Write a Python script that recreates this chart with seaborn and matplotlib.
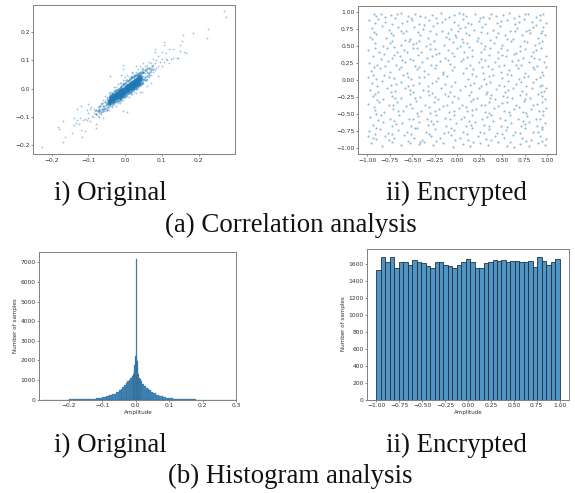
import matplotlib
matplotlib.use("Agg")
import matplotlib.pyplot as plt
import seaborn as sns

BLUE = "#1f77b4"

# Original correlation: sparse outer points
orig_outer = [(-0.225,-0.205),(-0.17,-0.19),(-0.165,-0.17),(-0.183,-0.135),(-0.18,-0.142),(-0.17,-0.115),(-0.145,-0.155),
(-0.14,-0.13),(-0.135,-0.12),(-0.13,-0.07),(-0.12,-0.145),(-0.118,-0.172),(-0.11,-0.15),(-0.14,-0.105),(-0.12,-0.06),
(-0.1,-0.055),(-0.08,-0.14),(-0.08,-0.125),(0.27,0.275),(0.275,0.255),(0.225,0.21),(0.222,0.18),(0.185,0.198),(0.158,0.19),
(0.155,0.17),(0.15,0.155),(0.165,0.125),(0.16,0.13),(0.105,0.165),(0.105,0.155),(0.08,0.14),(0.08,0.13),(0.1,0.13),
(0.13,0.14),(0.12,0.14),(-0.13,-0.11),(-0.125,-0.125),(-0.122,-0.105),(-0.115,-0.11),(-0.11,-0.108),(-0.105,-0.11),
(-0.1,-0.105),(-0.095,-0.115),(-0.09,-0.095),(-0.088,-0.1),(-0.085,-0.085),(-0.08,-0.09),(-0.105,-0.075),(-0.1,-0.085),
(-0.095,-0.07),(-0.092,-0.065),(-0.085,-0.07),(-0.082,-0.08),(-0.075,-0.095),(-0.07,-0.1),(-0.07,-0.085),(-0.07,-0.06),
(-0.075,-0.065),(-0.068,-0.075),(-0.065,-0.09),(-0.065,-0.055),(-0.06,-0.105),(-0.06,-0.07),(-0.06,-0.04),(-0.058,-0.06),
(-0.055,-0.08),(-0.055,-0.045),(-0.055,-0.025),(-0.05,-0.07),(-0.05,-0.055),(-0.05,-0.03),(-0.048,-0.065),(-0.045,-0.075),
(-0.045,-0.045),(-0.045,-0.015),(-0.04,-0.06),(-0.04,-0.035),(-0.04,-0.01),(-0.04,0.045),(-0.035,-0.065),(-0.035,-0.05),
(-0.035,-0.02),(-0.03,-0.055),(-0.03,-0.005),(-0.03,0.005),(-0.025,-0.06),(-0.025,0.005),(-0.02,-0.05),(-0.02,0.015),
(-0.015,-0.05),(-0.015,0.02),(-0.01,-0.045),(-0.01,0.02),(-0.01,0.05),(-0.005,-0.08),(-0.005,0.03),(-0.005,-0.04),
(0.0,-0.03),(0.0,0.03),(0.0,0.04),(-0.005,0.07),(-0.005,0.085),(0.005,-0.025),(0.005,0.05),(0.005,-0.083),(0.01,-0.03),
(0.01,0.04),(0.015,-0.02),(0.015,0.045),(0.02,-0.02),(0.02,0.055),(0.02,0.06),(0.025,-0.01),(0.025,0.05),(0.03,-0.015),
(0.03,0.06),(0.03,0.08),(0.035,0.005),(0.035,0.055),(0.035,0.07),(0.04,-0.01),(0.04,0.01),(0.04,0.06),(0.04,0.08),
(0.045,-0.01),(0.045,0.015),(0.045,0.065),(0.045,0.075),(0.05,0.02),(0.05,0.045),(0.05,0.07),(0.05,0.09),(0.055,0.03),
(0.055,0.055),(0.055,0.08),(0.06,0.01),(0.06,0.035),(0.06,0.06),(0.06,0.085),(0.065,0.04),(0.065,0.07),(0.065,0.095),
(0.07,0.02),(0.07,0.05),(0.07,0.075),(0.07,0.09),(0.075,0.06),(0.075,0.085),(0.075,0.105),(0.08,0.065),(0.08,0.09),
(0.085,0.075),(0.085,0.1),(0.09,0.045),(0.09,0.08),(0.09,0.115),(0.095,0.095),(0.1,0.08),(0.1,0.105),(0.105,0.095),
(0.11,0.105),(0.11,0.125),(0.115,0.1),(0.12,0.09),(0.125,0.105),(0.13,0.11),(0.14,0.11),(0.145,0.11),(0.15,0.135)]

# Original correlation: points flanking the dense band
orig_mid = [(-0.08,-0.075),(-0.078,-0.09),(-0.075,-0.08),(-0.072,-0.07),(-0.07,-0.078),(-0.068,-0.062),(-0.066,-0.083),(-0.064,-0.07),
(-0.062,-0.05),(-0.06,-0.08),(-0.06,-0.062),(-0.058,-0.072),(-0.056,-0.048),(-0.054,-0.068),(-0.052,-0.058),(-0.05,-0.036),(-0.05,-0.075),
(-0.048,-0.052),(-0.046,-0.066),(-0.045,-0.03),(-0.043,-0.058),(-0.042,-0.022),(-0.04,-0.055),(-0.04,-0.028),(-0.038,-0.05),(-0.037,-0.018),
(-0.036,-0.056),(-0.035,-0.014),(-0.033,-0.05),(-0.032,-0.018),(-0.03,-0.048),(-0.03,-0.012),(-0.028,-0.046),(-0.027,-0.008),(-0.025,-0.045),
(-0.025,-0.006),(-0.023,-0.042),(-0.022,-0.004),(-0.02,-0.04),(-0.02,0.0),(-0.018,-0.042),(-0.017,-0.002),(-0.015,-0.038),(-0.015,0.004),
(-0.013,-0.036),(-0.012,0.006),(-0.01,-0.035),(-0.01,0.01),(-0.008,-0.03),(-0.007,0.012),(-0.005,-0.03),(-0.005,0.016),(-0.003,-0.028),
(-0.002,0.02),(0.0,-0.024),(0.0,0.018),(0.002,-0.022),(0.003,0.025),(0.005,-0.018),(0.005,0.03),(0.007,-0.016),(0.008,0.028),(0.01,-0.015),
(0.01,0.032),(0.012,-0.012),(0.013,0.035),(0.015,-0.01),(0.015,0.038),(0.017,-0.008),(0.018,0.04),(0.02,-0.006),(0.02,0.042),(0.022,-0.004),
(0.023,0.045),(0.025,-0.002),(0.025,0.04),(0.027,0.002),(0.028,0.05),(0.03,0.0),(0.03,0.048),(0.032,0.004),(0.033,0.052),(0.035,0.008),
(0.035,0.05),(0.037,0.012),(0.038,0.055),(0.04,0.015),(0.04,0.052),(0.042,0.018),(0.043,0.06),(0.045,0.025),(0.045,0.055),(0.047,0.02),
(0.048,0.06),(0.05,0.03),(0.05,0.06),(0.052,0.035),(0.053,0.065),(0.055,0.04),(0.056,0.068),(0.058,0.03),(0.06,0.045),(0.06,0.072),(0.062,0.055),
(0.065,0.05),(0.066,0.075),(0.068,0.06),(0.07,0.065),(0.072,0.08),(0.075,0.07)]

# Original correlation: dense band along the diagonal
orig_core = [(-0.045,-0.05),(-0.043,-0.042),(-0.04,-0.045),(-0.04,-0.036),(-0.038,-0.03),(-0.037,-0.042),
(-0.036,-0.034),(-0.035,-0.027),(-0.034,-0.04),(-0.033,-0.03),(-0.032,-0.036),(-0.031,-0.024),(-0.03,-0.032),(-0.03,-0.026),
(-0.029,-0.038),(-0.028,-0.022),(-0.027,-0.03),(-0.026,-0.024),(-0.025,-0.034),(-0.025,-0.018),(-0.024,-0.028),(-0.023,-0.02),
(-0.022,-0.03),(-0.021,-0.014),(-0.02,-0.025),(-0.02,-0.018),(-0.019,-0.03),(-0.018,-0.012),(-0.017,-0.022),(-0.016,-0.016),
(-0.015,-0.028),(-0.015,-0.008),(-0.014,-0.02),(-0.013,-0.012),(-0.012,-0.024),(-0.011,-0.006),(-0.01,-0.018),(-0.01,-0.01),
(-0.009,-0.022),(-0.008,-0.003),(-0.007,-0.014),(-0.006,-0.007),(-0.005,-0.018),(-0.005,0.0),(-0.004,-0.01),(-0.003,-0.004),
(-0.002,-0.014),(-0.001,0.003),(0.0,-0.007),(0.0,0.0),(0.001,-0.012),(0.002,0.006),(0.003,-0.004),(0.004,0.002),(0.005,-0.008),
(0.005,0.01),(0.006,0.0),(0.007,0.006),(0.008,-0.005),(0.009,0.013),(0.01,0.003),(0.01,0.009),(0.011,-0.002),(0.012,0.016),
(0.013,0.006),(0.014,0.012),(0.015,0.001),(0.016,0.02),(0.017,0.01),(0.018,0.015),(0.019,0.004),(0.02,0.024),(0.02,0.012),
(0.021,0.018),(0.022,0.007),(0.023,0.028),(0.024,0.015),(0.025,0.021),(0.026,0.01),(0.027,0.032),(0.028,0.018),(0.029,0.025),
(0.03,0.013),(0.031,0.035),(0.032,0.022),(0.033,0.03),(0.034,0.017),(0.035,0.04),(0.036,0.026),(0.037,0.034),(0.038,0.022),
(0.04,0.044),(0.041,0.03),(0.042,0.037)]

# Encrypted correlation: scattered points
enc_points = [(-0.93,0.98),(-0.85,0.97),(-0.74,0.96),(-0.62,0.99),(-0.55,0.94),(-0.47,0.97),(-0.36,0.93),(-0.28,0.96),(-0.18,0.99),
(-0.09,0.93),(0.02,0.99),(0.1,0.95),(0.2,0.97),(0.29,0.93),(0.38,0.98),(0.51,0.96),(0.58,0.99),(0.69,0.94),(0.79,0.97),(0.88,0.93),(0.96,0.98),
(-0.98,0.88),(-0.88,0.9),(-0.8,0.85),(-0.69,0.91),(-0.61,0.84),(-0.5,0.89),(-0.43,0.83),(-0.31,0.88),(-0.22,0.84),(-0.13,0.9),(-0.03,0.86),
(0.06,0.9),(0.15,0.83),(0.24,0.87),(0.35,0.91),(0.44,0.84),(0.55,0.88),(0.64,0.83),(0.74,0.9),(0.83,0.85),(0.92,0.88),(0.99,0.84),
(-0.95,0.77),(-0.84,0.8),(-0.76,0.74),(-0.66,0.78),(-0.57,0.73),(-0.48,0.79),(-0.38,0.75),(-0.27,0.8),(-0.17,0.72),(-0.07,0.76),(0.01,0.72),
(0.09,0.79),(0.19,0.74),(0.28,0.78),(0.4,0.74),(0.48,0.8),(0.59,0.73),(0.67,0.77),(0.77,0.72),(0.85,0.79),(0.94,0.73),
(-0.97,0.64),(-0.9,0.68),(-0.79,0.62),(-0.71,0.66),(-0.6,0.69),(-0.52,0.61),(-0.41,0.67),(-0.33,0.62),(-0.23,0.68),(-0.12,0.63),(-0.02,0.67),
(0.05,0.61),(0.13,0.66),(0.23,0.62),(0.33,0.69),(0.43,0.63),(0.53,0.67),(0.62,0.61),(0.72,0.66),(0.81,0.69),(0.9,0.62),(0.98,0.67),
(-0.92,0.55),(-0.83,0.51),(-0.72,0.57),(-0.63,0.52),(-0.54,0.58),(-0.46,0.54),(-0.35,0.5),(-0.26,0.57),(-0.15,0.52),(-0.05,0.56),(0.03,0.5),
(0.11,0.54),(0.22,0.58),(0.31,0.5),(0.41,0.55),(0.5,0.52),(0.6,0.57),(0.7,0.51),(0.78,0.56),(0.87,0.52),(0.95,0.58),
(-0.99,0.45),(-0.87,0.42),(-0.78,0.47),(-0.67,0.41),(-0.59,0.45),(-0.49,0.48),(-0.4,0.42),(-0.3,0.46),(-0.2,0.4),(-0.1,0.44),(0.0,0.47),
(0.08,0.41),(0.17,0.45),(0.27,0.41),(0.37,0.47),(0.46,0.42),(0.56,0.45),(0.65,0.4),(0.75,0.46),(0.84,0.42),(0.93,0.47),
(-0.94,0.35),(-0.82,0.38),(-0.73,0.32),(-0.64,0.36),(-0.53,0.31),(-0.44,0.37),(-0.34,0.33),(-0.24,0.38),(-0.14,0.32),(-0.04,0.35),(0.07,0.31),
(0.16,0.36),(0.26,0.31),(0.36,0.37),(0.45,0.32),(0.54,0.35),(0.63,0.38),(0.73,0.32),(0.82,0.36),(0.91,0.31),(0.99,0.35),
(-0.98,0.25),(-0.89,0.22),(-0.77,0.28),(-0.68,0.23),(-0.58,0.27),(-0.47,0.21),(-0.39,0.26),(-0.29,0.22),(-0.19,0.28),(-0.08,0.24),(0.04,0.28),
(0.14,0.22),(0.24,0.26),(0.34,0.21),(0.42,0.27),(0.52,0.23),(0.61,0.28),(0.71,0.22),(0.8,0.26),(0.89,0.21),(0.97,0.27),
(-0.96,0.14),(-0.86,0.18),(-0.75,0.12),(-0.65,0.16),(-0.56,0.11),(-0.45,0.17),(-0.37,0.13),(-0.25,0.18),(-0.16,0.12),(-0.06,0.15),(0.06,0.11),
(0.18,0.16),(0.29,0.11),(0.39,0.17),(0.49,0.12),(0.58,0.15),(0.68,0.18),(0.76,0.11),(0.86,0.16),(0.94,0.12),
(-0.99,0.05),(-0.9,0.02),(-0.81,0.07),(-0.7,0.03),(-0.6,0.08),(-0.51,0.02),(-0.42,0.05),(-0.32,0.09),(-0.21,0.03),(-0.11,0.06),(0.12,0.02),
(0.21,0.06),(0.3,0.01),(0.4,0.07),(0.5,0.03),(0.6,0.08),(0.69,0.02),(0.79,0.06),(0.88,0.01),(0.96,0.07),
(-0.95,-0.05),(-0.84,-0.02),(-0.74,-0.07),(-0.63,-0.03),(-0.55,-0.08),(-0.43,-0.04),(-0.33,-0.09),(-0.23,-0.02),(-0.13,-0.06),(-0.02,-0.03),
(0.09,-0.08),(0.19,-0.04),(0.27,-0.09),(0.37,-0.03),(0.47,-0.07),(0.57,-0.02),(0.66,-0.06),(0.77,-0.09),(0.85,-0.03),(0.92,-0.08),(0.99,-0.11),
(-0.97,-0.14),(-0.88,-0.18),(-0.78,-0.12),(-0.69,-0.16),(-0.58,-0.11),(-0.49,-0.17),(-0.38,-0.14),(-0.28,-0.19),(-0.18,-0.12),(-0.08,-0.17),
(0.03,-0.14),(0.24,-0.12),(0.33,-0.18),(0.43,-0.13),(0.53,-0.17),(0.62,-0.11),(0.72,-0.16),(0.83,-0.12),(0.93,-0.18),
(-0.94,-0.24),(-0.83,-0.28),(-0.72,-0.23),(-0.62,-0.27),(-0.52,-0.21),(-0.41,-0.25),(-0.31,-0.22),(-0.21,-0.28),(-0.1,-0.24),(0.01,-0.27),
(0.13,-0.22),(0.22,-0.26),(0.32,-0.21),(0.42,-0.28),(0.51,-0.23),(0.61,-0.27),(0.7,-0.22),(0.81,-0.26),(0.9,-0.21),(0.98,-0.28),
(-0.99,-0.35),(-0.87,-0.32),(-0.76,-0.37),(-0.67,-0.33),(-0.57,-0.38),(-0.46,-0.31),(-0.36,-0.36),(-0.26,-0.32),(-0.16,-0.38),(-0.06,-0.33),
(0.05,-0.37),(0.15,-0.31),(0.26,-0.36),(0.36,-0.32),(0.46,-0.38),(0.55,-0.33),(0.65,-0.37),(0.74,-0.31),(0.84,-0.36),(0.95,-0.32),
(-0.92,-0.44),(-0.81,-0.47),(-0.71,-0.42),(-0.6,-0.46),(-0.5,-0.41),(-0.4,-0.45),(-0.3,-0.48),(-0.2,-0.42),(-0.09,-0.47),(0.02,-0.41),
(0.11,-0.46),(0.21,-0.43),(0.31,-0.47),(0.41,-0.41),(0.52,-0.45),(0.63,-0.42),(0.73,-0.47),(0.82,-0.43),(0.91,-0.46),(0.99,-0.41),
(-0.97,-0.55),(-0.85,-0.51),(-0.75,-0.57),(-0.65,-0.52),(-0.54,-0.58),(-0.44,-0.53),(-0.34,-0.57),(-0.24,-0.51),(-0.14,-0.56),(-0.03,-0.52),
(0.04,-0.57),(0.08,-0.55),(0.17,-0.51),(0.28,-0.57),(0.38,-0.52),(0.48,-0.56),(0.59,-0.51),(0.68,-0.57),(0.78,-0.53),(0.88,-0.58),(0.96,-0.52),
(-0.94,-0.66),(-0.83,-0.62),(-0.73,-0.67),(-0.61,-0.63),(-0.51,-0.68),(-0.42,-0.62),(-0.32,-0.66),(-0.22,-0.61),(-0.12,-0.67),(-0.01,-0.63),
(0.1,-0.68),(0.2,-0.62),(0.3,-0.66),(0.4,-0.61),(0.49,-0.67),(0.6,-0.63),(0.71,-0.68),(0.8,-0.62),(0.89,-0.67),(0.98,-0.63),
(-0.98,-0.75),(-0.86,-0.72),(-0.77,-0.78),(-0.66,-0.73),(-0.56,-0.77),(-0.45,-0.71),(-0.35,-0.76),(-0.25,-0.72),(-0.15,-0.78),(-0.04,-0.73),
(0.07,-0.77),(0.16,-0.71),(0.25,-0.76),(0.35,-0.72),(0.44,-0.78),(0.54,-0.73),(0.64,-0.77),(0.75,-0.71),(0.85,-0.76),(0.94,-0.72),
(-0.99,-0.83),(-0.9,-0.87),(-0.8,-0.82),(-0.7,-0.86),(-0.59,-0.81),(-0.48,-0.85),(-0.39,-0.88),(-0.29,-0.82),(-0.19,-0.86),(-0.07,-0.81),
(0.03,-0.85),(0.12,-0.88),(0.23,-0.83),(0.32,-0.87),(0.42,-0.82),(0.52,-0.86),(0.62,-0.81),(0.72,-0.85),(0.82,-0.88),(0.92,-0.83),(0.99,-0.87),
(-0.96,-0.93),(-0.84,-0.97),(-0.72,-0.92),(-0.62,-0.96),(-0.52,-0.93),(-0.43,-0.94),(-0.37,-0.92),(-0.27,-0.96),(-0.16,-0.93),(-0.05,-0.98),
(0.06,-0.94),(0.14,-0.97),(0.25,-0.93),(0.34,-0.96),(0.45,-0.92),(0.56,-0.97),(0.63,-0.98),(0.7,-0.94),(0.8,-0.97),(0.9,-0.93),(0.98,-0.96)]

# Encrypted correlation: further scattered points
enc_more = [(-0.9,0.95),(-0.8,0.93),(-0.67,0.97),(-0.51,0.91),(-0.41,0.95),(-0.23,0.92),(-0.04,0.96),(0.06,0.98),(0.25,0.92),(0.43,0.95),(0.63,0.91),(0.75,0.98),(0.92,0.96),
(-0.92,0.84),(-0.73,0.83),(-0.56,0.87),(-0.37,0.81),(-0.17,0.86),(0.01,0.82),(0.03,0.77),(0.12,0.84),(0.31,0.83),(0.49,0.87),(0.69,0.85),(0.88,0.81),(0.96,0.78),
(-0.93,0.71),(-0.74,0.7),(-0.62,0.72),(-0.44,0.71),(-0.3,0.72),(-0.1,0.7),(-0.01,0.63),(0.1,0.7),(0.27,0.71),(0.46,0.7),(0.64,0.72),(0.8,0.74),(0.93,0.69),
(-0.95,0.6),(-0.75,0.55),(-0.58,0.59),(-0.43,0.58),(-0.49,0.53),(-0.3,0.53),(-0.09,0.6),(0.07,0.56),(0.27,0.55),(0.37,0.59),(0.56,0.6),(0.74,0.57),(0.91,0.55),
(-0.91,0.48),(-0.7,0.49),(-0.56,0.42),(-0.45,0.47),(-0.25,0.46),(-0.06,0.4),(0.13,0.49),(0.3,0.46),(0.49,0.48),(0.7,0.43),(0.88,0.45),
(-0.85,0.31),(-0.7,0.37),(-0.61,0.29),(-0.49,0.3),(-0.28,0.35),(-0.1,0.3),(0.11,0.34),(0.31,0.29),(0.5,0.37),(0.68,0.3),(0.86,0.33),
(-0.93,0.19),(-0.8,0.21),(-0.62,0.2),(-0.42,0.19),(-0.23,0.23),(-0.03,0.2),(0.1,0.18),(0.28,0.19),(0.47,0.21),(0.65,0.23),(0.84,0.19),(0.99,0.2),
(-0.94,0.08),(-0.76,0.05),(-0.55,0.05),(-0.37,0.04),(-0.16,0.09),(0.16,0.09),(0.35,0.06),(0.55,0.09),(0.74,0.04),(0.92,0.05),
(-0.89,-0.08),(-0.68,-0.06),(-0.49,-0.07),(-0.28,-0.05),(-0.07,-0.09),(0.14,-0.07),(0.32,-0.06),(0.52,-0.09),(0.71,-0.03),(0.95,-0.07),
(-0.92,-0.2),(-0.74,-0.18),(-0.53,-0.15),(-0.33,-0.16),(-0.13,-0.2),(0.15,-0.17),(0.38,-0.22),(0.57,-0.14),(0.77,-0.2),(0.97,-0.16),
(-0.89,-0.3),(-0.69,-0.26),(-0.47,-0.27),(-0.25,-0.25),(-0.03,-0.23),(0.18,-0.28),(0.37,-0.26),(0.56,-0.25),(0.76,-0.28),(0.94,-0.24),
(-0.93,-0.39),(-0.71,-0.36),(-0.52,-0.35),(-0.31,-0.4),(-0.11,-0.37),(0.1,-0.4),(0.31,-0.36),(0.5,-0.34),(0.69,-0.39),(0.89,-0.35),
(-0.9,-0.5),(-0.66,-0.45),(-0.45,-0.49),(-0.25,-0.46),(-0.04,-0.45),(0.16,-0.44),(0.36,-0.49),(0.58,-0.47),(0.77,-0.49),(0.96,-0.46),
(-0.88,-0.59),(-0.7,-0.6),(-0.49,-0.58),(-0.29,-0.6),(-0.08,-0.57),(0.13,-0.6),(0.33,-0.55),(0.53,-0.59),(0.73,-0.6),(0.92,-0.57),
(-0.9,-0.71),(-0.68,-0.65),(-0.47,-0.71),(-0.27,-0.65),(-0.07,-0.7),(0.15,-0.66),(0.36,-0.67),(0.56,-0.69),(0.76,-0.65),(0.95,-0.69),
(-0.92,-0.79),(-0.73,-0.8),(-0.51,-0.79),(-0.31,-0.79),(-0.1,-0.77),(0.11,-0.8),(0.3,-0.78),(0.5,-0.8),(0.7,-0.78),(0.9,-0.76),
(-0.94,-0.86),(-0.76,-0.89),(-0.55,-0.9),(-0.41,-0.91),(-0.23,-0.9),(-0.02,-0.89),(0.18,-0.91),(0.38,-0.89),(0.59,-0.92),(0.77,-0.9),(0.95,-0.9)]

# Histogram of the original signal
orig_edges = [-0.28,-0.26,-0.24,-0.22,-0.20,-0.18,-0.16,-0.14,-0.12,-0.11,-0.10,-0.09,-0.08,-0.07,-0.06,-0.05,
-0.045,-0.04,-0.035,-0.03,-0.025,-0.02,-0.016,-0.012,-0.009,-0.006,-0.004,-0.002,-0.0008,0.0022,0.004,0.006,0.008,0.01,
0.013,0.016,0.02,0.025,0.03,0.035,0.04,0.045,0.05,0.06,0.07,0.08,0.09,0.10,0.11,0.12,0.14,0.16,0.18,0.20,0.22,0.24,0.26,0.28,0.30]
orig_counts = [2,3,5,8,14,22,35,55, 75,100,130,170,230,310,410, 470,550,640,730,830,930,
1030,1120,1200,1330,1500,1750, 2250,7200, 2200,1950,1600,1300,1120,1050,
950,820,720,620,540,470,410, 320,240,175,130,95,70,50, 35,22,12,7,4,3,2,1,1]

# Histogram of the encrypted signal
enc_edges = [-1 + 2 * i / 41 for i in range(42)]
enc_counts = [1530,1680,1615,1680,1545,1615,1620,1590,1640,1620,1605,1570,1545,1625,1625,1590,1570,1555,1590,1615,1660,
1615,1545,1555,1605,1620,1650,1630,1650,1615,1630,1630,1625,1615,1630,1565,1685,1630,1580,1615,1660]

W, H = 575, 493
fig = plt.figure(figsize=(W / 100, H / 100), dpi=100)

def box(x0, x1, y0, y1):
    return fig.add_axes([x0 / W, 1 - y1 / H, (x1 - x0) / W, (y1 - y0) / H])

def style(a, fs=4.3):
    a.tick_params(labelsize=fs, length=1.4, width=0.4, pad=1.2, colors="#333333")
    for s in a.spines.values():
        s.set_linewidth(0.7)
        s.set_color("#808080")

ax1 = box(33.3, 235.3, 4.5, 154.3)
sns.scatterplot(x=[p[0] for p in orig_outer], y=[p[1] for p in orig_outer], s=1.6, alpha=0.45, color=BLUE, linewidth=0, ax=ax1)
sns.scatterplot(x=[p[0] for p in orig_mid], y=[p[1] for p in orig_mid], s=2.6, alpha=0.6, color=BLUE, linewidth=0, ax=ax1)
sns.scatterplot(x=[p[0] for p in orig_core], y=[p[1] for p in orig_core], s=8, alpha=0.8, color=BLUE, linewidth=0, ax=ax1)
ax1.set_xlim(-0.25, 0.30)
ax1.set_ylim(-0.232, 0.298)
ax1.set_xticks([-0.2, -0.1, 0.0, 0.1, 0.2])
ax1.set_yticks([-0.2, -0.1, 0.0, 0.1, 0.2])
style(ax1)

ax2 = box(358, 556.3, 6, 154)
all_enc = enc_points + enc_more
sns.scatterplot(x=[p[0] for p in all_enc], y=[p[1] for p in all_enc], s=2.4, alpha=0.5, color=BLUE, linewidth=0, ax=ax2)
ax2.set_xlim(-1.104, 1.104)
ax2.set_ylim(-1.09, 1.093)
ticks = [-1.0, -0.75, -0.5, -0.25, 0.0, 0.25, 0.5, 0.75, 1.0]
ax2.set_xticks(ticks)
ax2.set_yticks(ticks)
style(ax2)

ax3 = box(39.3, 236.3, 251.5, 399.7)
sns.histplot(x=[(a + b) / 2 for a, b in zip(orig_edges[:-1], orig_edges[1:])], weights=orig_counts, bins=orig_edges,
             color=BLUE, edgecolor="#30506a", linewidth=0.15, alpha=0.85, ax=ax3)
ax3.set_xlim(-0.288, 0.30)
ax3.set_ylim(0, 7560)
ax3.set_xticks([-0.2, -0.1, 0.0, 0.1, 0.2, 0.3])
ax3.set_xlabel("Amplitude", fontsize=4.1, labelpad=1.2, color="#333333")
ax3.set_ylabel("Number of samples", fontsize=4.1, labelpad=1.5, color="#333333")
style(ax3)

ax4 = box(367.3, 568.7, 248.5, 399.5)
sns.histplot(x=[(a + b) / 2 for a, b in zip(enc_edges[:-1], enc_edges[1:])], weights=enc_counts, bins=enc_edges,
             color=BLUE, edgecolor="#1f3345", linewidth=0.6, alpha=0.78, ax=ax4)
ax4.set_xlim(-1.1, 1.1)
ax4.set_ylim(0, 1780)
ax4.set_xticks(ticks)
ax4.set_xlabel("Amplitude", fontsize=4.1, labelpad=1.2, color="#333333")
ax4.set_ylabel("Number of samples", fontsize=4.1, labelpad=1.5, color="#333333")
style(ax4)

serif = "Liberation Serif"
captions = [(110, 200, "i) Original"), (456, 200, "ii) Encrypted"), (290.5, 232, "(a) Correlation analysis"),
            (110, 452, "i) Original"), (456, 452, "ii) Encrypted"), (290.5, 483, "(b) Histogram analysis")]
for cx, by, t in captions:
    fig.text(cx / W, 1 - by / H, t, family=serif, fontsize=19.4, ha="center", va="baseline", color="#111111")

fig.savefig("out.png", dpi=100)
